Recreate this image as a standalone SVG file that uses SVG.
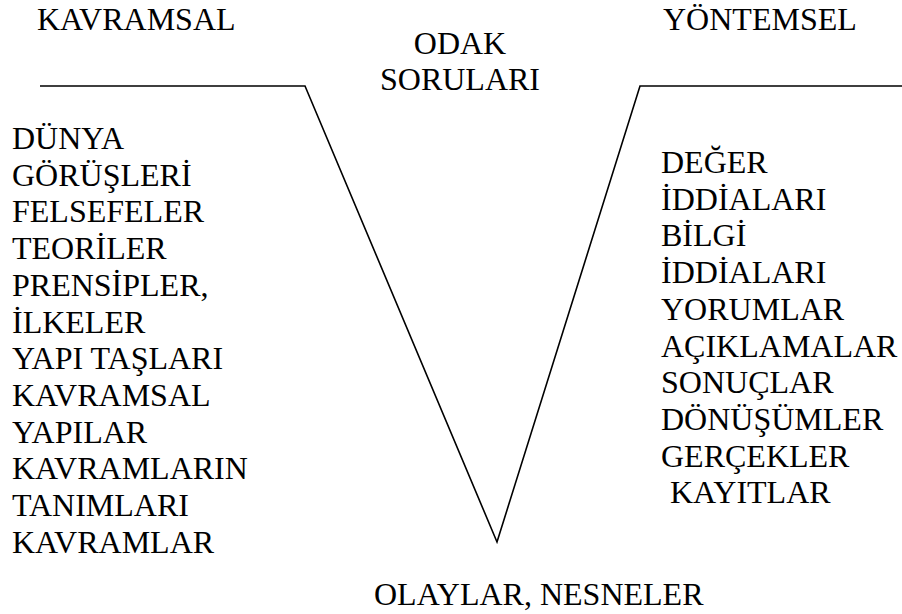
<svg xmlns="http://www.w3.org/2000/svg" width="902" height="614" viewBox="0 0 902 614">
  <style>
    .vee { fill: none; stroke: #000; stroke-width: 1.6; stroke-linejoin: miter; }
    .lbl { font-family: "Liberation Serif", serif; font-size: 32px; fill: #000; }
  </style>
  <rect width="902" height="614" fill="#fff"/>

  <!-- Vee outline -->
  <g id="connectors">
    <polyline class="vee" points="40,86 305,86 497,542 640,86 902,86"/>
  </g>

  <g id="heading-conceptual">
    <text class="lbl" x="37" y="30">KAVRAMSAL</text>
  </g>
  <g id="heading-methodological">
    <text class="lbl" x="663" y="30">YÖNTEMSEL</text>
  </g>
  <g id="focus-questions">
    <text class="lbl" x="460" y="54" text-anchor="middle">ODAK</text>
    <text class="lbl" x="460" y="90" text-anchor="middle">SORULARI</text>
  </g>

  <g id="conceptual-side">
    <text class="lbl" x="12" y="149">DÜNYA</text>
    <text class="lbl" x="12" y="185.7">GÖRÜŞLERİ</text>
    <text class="lbl" x="12" y="222.4">FELSEFELER</text>
    <text class="lbl" x="12" y="259.1">TEORİLER</text>
    <text class="lbl" x="12" y="295.8">PRENSİPLER,</text>
    <text class="lbl" x="12" y="332.5">İLKELER</text>
    <text class="lbl" x="12" y="369.2">YAPI TAŞLARI</text>
    <text class="lbl" x="12" y="405.9">KAVRAMSAL</text>
    <text class="lbl" x="12" y="442.6">YAPILAR</text>
    <text class="lbl" x="12" y="479.3">KAVRAMLARIN</text>
    <text class="lbl" x="12" y="516">TANIMLARI</text>
    <text class="lbl" x="12" y="552.7">KAVRAMLAR</text>
  </g>

  <g id="methodological-side">
    <text class="lbl" x="661" y="173">DEĞER</text>
    <text class="lbl" x="661" y="209.7">İDDİALARI</text>
    <text class="lbl" x="661" y="246.4">BİLGİ</text>
    <text class="lbl" x="661" y="283.1">İDDİALARI</text>
    <text class="lbl" x="661" y="319.8">YORUMLAR</text>
    <text class="lbl" x="661" y="356.5">AÇIKLAMALAR</text>
    <text class="lbl" x="661" y="393.2">SONUÇLAR</text>
    <text class="lbl" x="661" y="429.9">DÖNÜŞÜMLER</text>
    <text class="lbl" x="661" y="466.6">GERÇEKLER</text>
    <text class="lbl" x="670" y="503.3">KAYITLAR</text>
  </g>

  <g id="events-objects">
    <text class="lbl" x="374" y="605">OLAYLAR, NESNELER</text>
  </g>
</svg>
